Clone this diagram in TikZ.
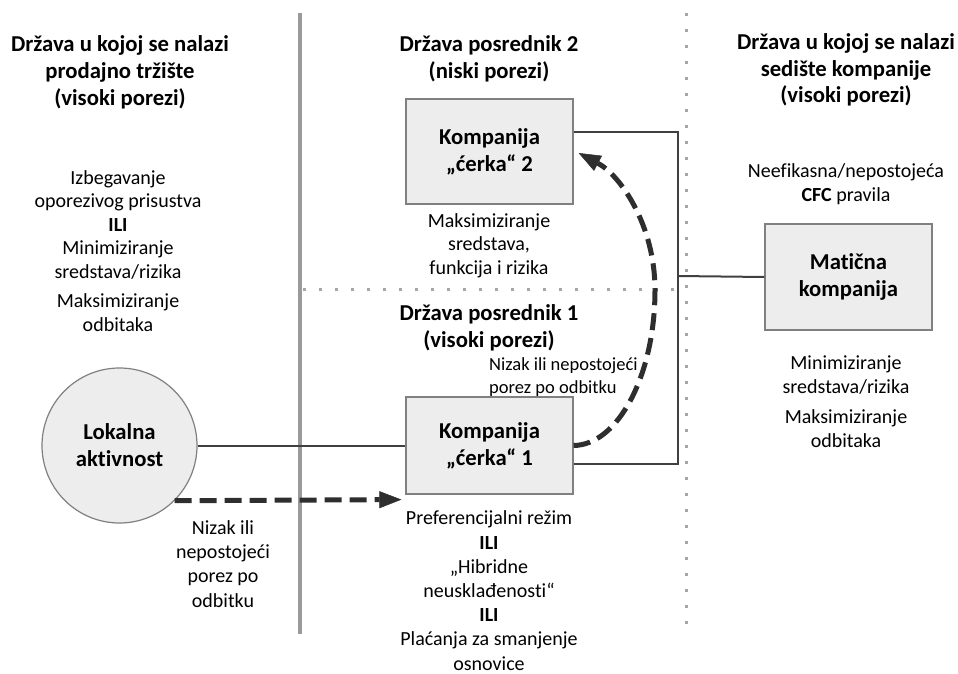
\documentclass[tikz,border=0pt]{standalone}
\usepackage{fontspec}
\setmainfont[Ligatures={NoCommon}]{Carlito}
\usetikzlibrary{arrows.meta}
\definecolor{boxfill}{HTML}{EDEDED}
\definecolor{boxline}{HTML}{808080}
\definecolor{conncol}{HTML}{404040}
\definecolor{dashcol}{HTML}{2E2E2E}
\definecolor{sepcol}{HTML}{9A9A9A}
\definecolor{dotcol}{HTML}{A6A6A6}
\begin{document}
\begin{tikzpicture}[x=1pt,y=-1pt,
  head/.style={font=\fontsize{22.7}{27}\selectfont\bfseries, align=center, inner sep=0pt},
  body/.style={font=\fontsize{20}{23.5}\selectfont, align=center, inner sep=0pt},
  bodyw/.style={font=\fontsize{20}{24.2}\selectfont, align=center, inner sep=0pt},
  small/.style={font=\fontsize{18.5}{22.5}\selectfont, align=left, inner sep=0pt},
  compbox/.style={draw=boxline, fill=boxfill, line width=1.2pt, font=\fontsize{22.7}{27}\selectfont\bfseries, align=center, minimum width=167pt, inner sep=0pt},
  actcirc/.style={circle, draw=boxline, fill=boxfill, line width=1.2pt, font=\fontsize{22.7}{27}\selectfont\bfseries, align=center, minimum size=155pt, inner sep=0pt},
  conn/.style={draw=conncol, line width=2pt},
  dashline/.style={draw=dashcol, line width=5pt, dash pattern=on 17pt off 8pt, -{Triangle[length=22pt,width=17pt,line width=0.5pt]}},
  sepline/.style={draw=sepcol, line width=3.5pt},
  dotline/.style={draw=dotcol, line width=3pt, dash pattern=on 3pt off 13pt}
]
\useasboundingbox (0,0) rectangle (958,674);

% separators
\draw[sepline] (300,13) -- (300,634);
\draw[dotline] (686,13) -- (686,632);
\draw[dotline] (303,289) -- (686,289);

% nodes
\node[compbox, minimum height=105pt] (c2) at (489.5,151.5) {Kompanija\\„ćerka“ 2};
\node[compbox, minimum height=97pt] (c1) at (489.5,445.5) {Kompanija\\„ćerka“ 1};
\node[compbox, minimum height=106pt] (mat) at (848.5,277) {Matična\\kompanija};
\node[actcirc] (circ) at (119.5,445.5) {Lokalna\\aktivnost};

% texts (anchor=base is the baseline of the last line)
\node[head, anchor=base] (hl) at (120,106) {Država u kojoj se nalazi\\prodajno tržište\\(visoki porezi)};
\node[head, anchor=base] (hm2) at (489,79) {Država posrednik 2\\(niski porezi)};
\node[head, anchor=base] (hr) at (846,103) {Država u kojoj se nalazi\\sedište kompanije\\(visoki porezi)};
\node[body, anchor=base] (tl) at (118,331) {Izbegavanje\\oporezivog prisustva\\\textbf{ILI}\\Minimiziranje\\sredstava/rizika\\[6pt]Maksimiziranje\\odbitaka};
\node[body, anchor=base] (tr) at (846,201) {Neefikasna/nepostojeća\\\textbf{CFC} pravila};
\node[body, anchor=base] (tr2) at (846,447) {Minimiziranje\\sredstava/rizika\\[7pt]Maksimiziranje\\odbitaka};
\node[body, anchor=base] (tm2) at (489,274) {Maksimiziranje\\sredstava,\\funkcija i rizika};
\node[head, anchor=base] (hm1) at (489,347) {Država posrednik 1\\(visoki porezi)};
\node[small, anchor=base west] (tw1) at (489,393) {Nizak ili nepostojeći\\porez po odbitku};
\node[bodyw, anchor=base] (tw0) at (223,607) {Nizak ili\\nepostojeći\\porez po\\odbitku};
\node[bodyw, anchor=base] (tm1) at (489,670) {Preferencijalni režim\\\textbf{ILI}\\„Hibridne\\neusklađenosti“\\\textbf{ILI}\\Plaćanja za smanjenje\\osnovice};

% connectors
\coordinate (j) at (677.5,276);
\draw[conn] ([yshift=19.5pt]c2.east) -| (j) |- ([yshift=-18.5pt]c1.east);
\draw[conn] (j) -- (mat.west);
\draw[conn] (circ.east) -- (c1.west);

% dashed arrows
\draw[dashline] (circ.-45) -- ([xshift=-4pt,yshift=-5pt]c1.south west);
\draw[dashline] (c1.east) .. controls (618,445) and (655,375) .. (655,290)
  .. controls (655,225) and (620,175) .. ([xshift=5pt,yshift=-1.5pt]c2.east);
\end{tikzpicture}
\end{document}
